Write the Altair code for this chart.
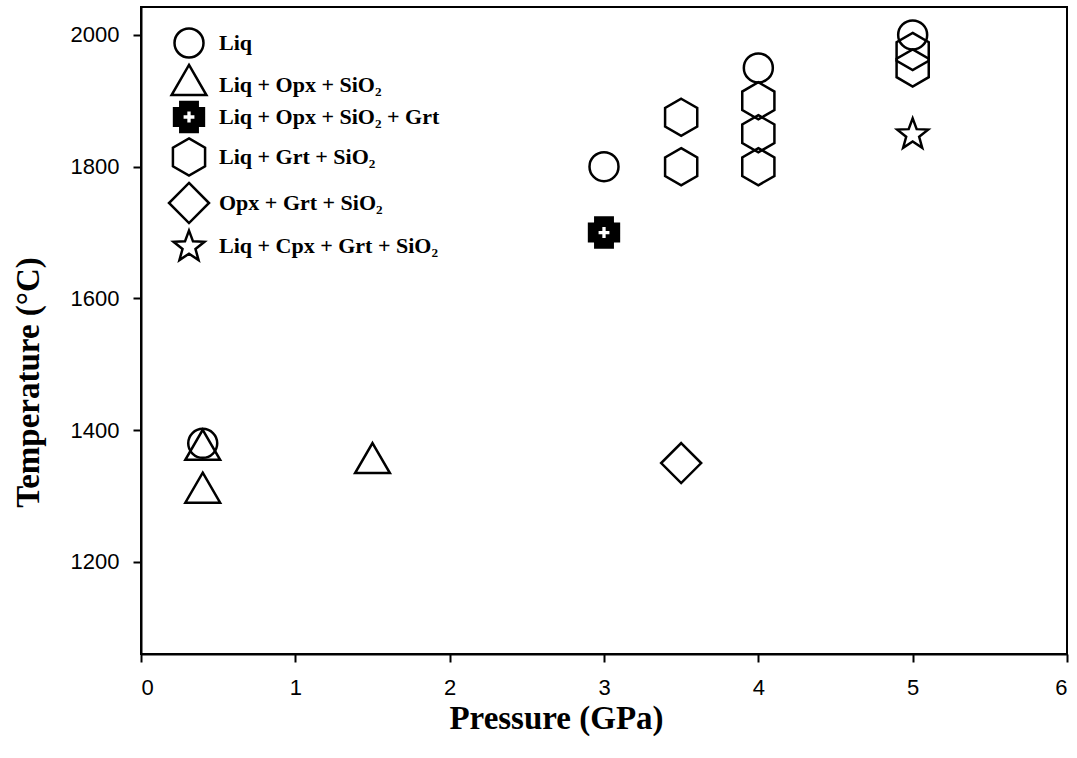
import math

import altair as alt
import pandas as pd

# Phase assemblages (legend order)
phases = [
    "Liq",
    "Liq + Opx + SiO₂",
    "Liq + Opx + SiO₂ + Grt",
    "Liq + Grt + SiO₂",
    "Opx + Grt + SiO₂",
    "Liq + Cpx + Grt + SiO₂",
]

# Experimental run conditions: pressure (GPa) and temperature (°C) per assemblage
liq_p = [0.4, 3.0, 4.0, 5.0]
liq_t = [1380, 1800, 1950, 2000]

liq_opx_p = [0.4, 0.4, 1.5]
liq_opx_t = [1370, 1305, 1350]

liq_opx_grt_p = [3.0]
liq_opx_grt_t = [1700]

liq_grt_p = [3.5, 3.5, 4.0, 4.0, 4.0, 5.0, 5.0]
liq_grt_t = [1875, 1800, 1900, 1850, 1800, 1975, 1950]

opx_grt_p = [3.5]
opx_grt_t = [1350]

liq_cpx_grt_p = [5.0]
liq_cpx_grt_t = [1850]

x_ticks = [0, 1, 2, 3, 4, 5, 6]
y_ticks = [1200, 1400, 1600, 1800, 2000]

groups = [
    (phases[0], liq_p, liq_t),
    (phases[1], liq_opx_p, liq_opx_t),
    (phases[2], liq_opx_grt_p, liq_opx_grt_t),
    (phases[3], liq_grt_p, liq_grt_t),
    (phases[4], opx_grt_p, opx_grt_t),
    (phases[5], liq_cpx_grt_p, liq_cpx_grt_t),
]
rows = []
for name, ps, ts in groups:
    for p, t in zip(ps, ts):
        rows.append({"phase": name, "P": p, "T": t})
df = pd.DataFrame(rows)


# ---- symbol outlines (unit box, scaled by sqrt(size)/2) ----
def poly(points):
    return "M" + " L".join(f"{x:.3f},{y:.3f}" for x, y in points) + " Z"


def regular(n, r, start_deg):
    return [
        (r * math.cos(math.radians(start_deg + i * 360 / n)),
         r * math.sin(math.radians(start_deg + i * 360 / n)))
        for i in range(n)
    ]


triangle = poly([(0, -1.38), (1.2, 0.69), (-1.2, 0.69)])
hexagon = poly(regular(6, 1.28, -90))
diamond = poly([(0, -1.38), (1.38, 0), (0, 1.38), (-1.38, 0)])

star_pts = []
for i in range(10):
    r = 1.12 if i % 2 == 0 else 0.47
    a = math.radians(-90 + i * 36)
    star_pts.append((r * math.cos(a), r * math.sin(a) + 0.06))
star = poly(star_pts)

# solid cross with a small open cross cut out of its middle
a, e = 0.6, 1.03
outer = [(-a, -e), (a, -e), (a, -a), (e, -a), (e, a), (a, a), (a, e), (-a, e),
         (-a, a), (-e, a), (-e, -a), (-a, -a)]
b, f = 0.2, 0.46
inner = [(-b, -f), (-b, -b), (-f, -b), (-f, b), (-b, b), (-b, f), (b, f), (b, b),
         (f, b), (f, -b), (b, -b), (b, -f)]
cross = poly(outer) + " " + poly(inner)

shapes = ["circle", triangle, cross, hexagon, diamond, star]
fills = ["transparent", "transparent", "black", "transparent", "transparent", "transparent"]
strokes = ["black"] * len(phases)

legend = alt.Legend(
    title=None,
    orient="none",
    legendX=32,
    legendY=20,
    padding=0,
    offset=0,
    rowPadding=-4,
    symbolSize=841,
    symbolStrokeWidth=2.5,
    labelFont="Liberation Serif",
    labelFontWeight="bold",
    labelFontSize=22,
    labelColor="black",
    labelOffset=14,
    labelLimit=400,
    # the garnet-bearing Opx assemblage label sits a little further right
    labelExpr="test(/Grt$/, datum.label) ? '\u00a0\u00a0' + datum.label : datum.label",
)

points = (
    alt.Chart(df)
    .mark_point(filled=True, strokeWidth=2.5, opacity=1, size=841)
    .encode(
        x=alt.X(
            "P:Q",
            scale=alt.Scale(domain=[0, 6], nice=False, zero=False),
            axis=alt.Axis(
                values=x_ticks,
                format="d",
                title="Pressure (GPa)",
                titleX=415,
                titleY=64,
                titleAlign="center",
                titleBaseline="middle",
                labelPadding=15,
            ),
        ),
        y=alt.Y(
            "T:Q",
            scale=alt.Scale(domain=[1060, 2042.5], nice=False, zero=False),
            axis=alt.Axis(
                values=y_ticks,
                format="d",
                title="Temperature (°C)",
                titleX=-113,
                titleY=375,
                titleAngle=270,
                titleAlign="center",
                titleBaseline="middle",
                labelPadding=14,
            ),
        ),
        shape=alt.Shape("phase:N", scale=alt.Scale(domain=phases, range=shapes), legend=legend),
        fill=alt.Fill("phase:N", scale=alt.Scale(domain=phases, range=fills), legend=legend),
        stroke=alt.Stroke("phase:N", scale=alt.Scale(domain=phases, range=strokes), legend=legend),
    )
)

chart = (
    points.properties(
        width=926,
        height=647,
        autosize=alt.AutoSizeParams(type="none"),
        padding={"left": 141, "top": 7, "right": 10, "bottom": 104},
        background="white",
    )
    .configure_view(stroke="black", strokeWidth=2)
    .configure_axis(
        grid=False,
        domainColor="black",
        domainWidth=2,
        tickColor="black",
        tickWidth=2,
        tickSize=8,
        labelFont="Liberation Sans",
        labelFontSize=22,
        labelColor="black",
        titleFont="Liberation Serif",
        titleFontWeight="bold",
        titleFontSize=33,
        titleColor="black",
    )
)

chart.save("out.html", embed_options={"renderer": "svg", "actions": False})
